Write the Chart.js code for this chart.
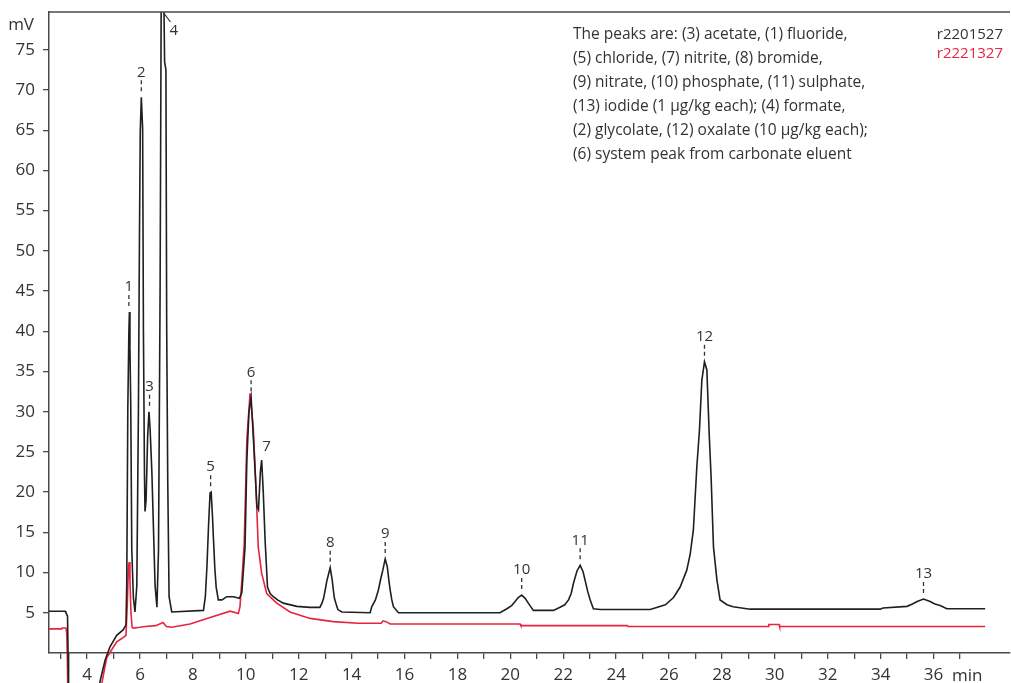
<!DOCTYPE html>
<html>
<head>
<meta charset="utf-8">
<script src="https://cdn.jsdelivr.net/npm/chart.js@4.4.1/dist/chart.umd.min.js"></script>
<style>
  html, body { margin: 0; padding: 0; background: #fff; }
  #wrap { width: 1011px; height: 683px; }
</style>
</head>
<body>
<div id="wrap"><canvas id="chromatogram" width="1011" height="683"></canvas></div>
<script>
// retention time (min), signal (mV)
const blackTrace = [
  [2.56, 5.2], [3.17, 5.2], [3.2, 5.0], [3.26, 4.6], [3.28, 0], [3.3, -4.5],
  [4.45, -4.5], [4.49, -3.5], [4.68, -0.9], [4.87, 0.8], [5.12, 2.2], [5.37, 2.9], [5.47, 3.5],
  [5.50, 8.8], [5.54, 30.6], [5.58, 40], [5.60, 42.4], [5.62, 38], [5.65, 31.0], [5.69, 12.8],
  [5.75, 6.9], [5.81, 5.1], [5.88, 8.4], [5.94, 30], [5.98, 52], [6.01, 64.8], [6.05, 69.1],
  [6.10, 65.2], [6.13, 40], [6.17, 22], [6.19, 17.6], [6.23, 19], [6.29, 27], [6.34, 30.0],
  [6.38, 28], [6.45, 22.4], [6.57, 8.4], [6.64, 5.7], [6.70, 12.8], [6.76, 45], [6.80, 80],
  [6.85, 90], [6.90, 82], [6.93, 73.5], [6.98, 72.5], [7.01, 40], [7.05, 21.1], [7.10, 7.0],
  [7.20, 5.1], [8.40, 5.3], [8.47, 7.0], [8.53, 10.7], [8.60, 16.5], [8.65, 19.9], [8.69, 20.0],
  [8.74, 17.0], [8.78, 14.0], [8.83, 10.5], [8.88, 8.2], [8.96, 6.6], [9.10, 6.6], [9.28, 7.0],
  [9.53, 7.0], [9.76, 6.8], [9.85, 7.5], [9.97, 13.1], [10.04, 24], [10.12, 30], [10.20, 31.8],
  [10.29, 26.5], [10.42, 18.2], [10.48, 17.8], [10.55, 22.5], [10.60, 24.0], [10.66, 20],
  [10.73, 14.0], [10.82, 8.2], [10.92, 7.4], [11.04, 7.0], [11.20, 6.6], [11.42, 6.2],
  [11.93, 5.8], [12.43, 5.67], [12.80, 5.67], [12.88, 6.2], [12.94, 6.8], [13.00, 7.8],
  [13.06, 8.9], [13.12, 9.7], [13.19, 10.6], [13.27, 9.0], [13.31, 7.8], [13.35, 6.8],
  [13.44, 5.8], [13.48, 5.4], [13.63, 5.1], [14.70, 5.0], [14.76, 5.75], [14.90, 6.6],
  [15.01, 7.8], [15.10, 9.2], [15.18, 10.3], [15.27, 11.7], [15.35, 10.7], [15.41, 9.0],
  [15.46, 7.8], [15.52, 6.6], [15.58, 5.75], [15.77, 5.0], [19.61, 5.0], [19.87, 5.5],
  [20.05, 5.9], [20.18, 6.4], [20.30, 6.9], [20.43, 7.2], [20.56, 6.8], [20.68, 6.2],
  [20.87, 5.3], [21.63, 5.3], [21.88, 5.7], [22.06, 6.0], [22.20, 6.6], [22.30, 7.4],
  [22.39, 8.7], [22.52, 10.2], [22.64, 10.9], [22.75, 10.1], [22.83, 9.0], [22.93, 7.6],
  [23.02, 6.6], [23.14, 5.5], [23.40, 5.4], [25.29, 5.4], [25.86, 6.0], [26.17, 6.9],
  [26.42, 8.2], [26.67, 10.3], [26.80, 12.3], [26.92, 15.3], [27.05, 23.1], [27.15, 27.7],
  [27.24, 33.9], [27.34, 36.2], [27.43, 35.2], [27.52, 27.1], [27.59, 21.9], [27.68, 13.2],
  [27.81, 9.1], [27.93, 6.6], [28.19, 6.0], [28.42, 5.75], [29.07, 5.45], [33.98, 5.45],
  [34.09, 5.6], [35.00, 5.8], [35.20, 6.1], [35.38, 6.4], [35.62, 6.7], [35.87, 6.4],
  [36.05, 6.1], [36.25, 5.9], [36.50, 5.5], [37.95, 5.5]
]

const redTrace = [
  [2.56, 3.0], [3.04, 3.0], [3.06, 3.1], [3.2, 3.1], [3.23, 2.5], [3.25, 0], [3.27, -4.5],
  [4.50, -4.5], [4.56, -3.7], [4.74, -0.6], [4.93, 0.4], [5.12, 1.4], [5.31, 1.8], [5.47, 2.2],
  [5.52, 6], [5.56, 10.5], [5.59, 11.3], [5.62, 9], [5.66, 5], [5.70, 3.2], [5.75, 3.1],
  [6.0, 3.2], [6.2, 3.3], [6.6, 3.4], [6.87, 3.8], [7.0, 3.3], [7.2, 3.2], [7.89, 3.6],
  [8.65, 4.4], [9.41, 5.2], [9.72, 4.9], [9.78, 5.75], [9.85, 9.0], [9.94, 13.6], [10.04, 26.5],
  [10.16, 32.3], [10.28, 28.1], [10.39, 20.2], [10.47, 13.2], [10.60, 9.9], [10.79, 7.4],
  [11.17, 6.2], [11.67, 5.1], [12.05, 4.7], [12.43, 4.3], [13.30, 3.9], [14.25, 3.7],
  [15.12, 3.7], [15.19, 4.0], [15.30, 3.9], [15.46, 3.6], [20.37, 3.6], [20.40, 3.4],
  [24.42, 3.4], [24.45, 3.3], [29.75, 3.3], [29.77, 3.55], [30.16, 3.55], [30.18, 3.3], [37.95, 3.3]
]

// label, peak time, peak height, leader dash?
const peakLabels = [
  ['1', 5.58, 42.4, true], ['2', 6.05, 69.1, true], ['3', 6.36, 30.0, true],
  ['5', 8.67, 20.0, true], ['6', 10.20, 31.8, true], ['7', 10.78, 22.6, false],
  ['8', 13.19, 10.6, true], ['9', 15.27, 11.7, true], ['10', 20.43, 7.2, true],
  ['11', 22.64, 10.9, true], ['12', 27.34, 36.2, true], ['13', 35.62, 6.7, true]
]

const yTicks = [5, 10, 15, 20, 25, 30, 35, 40, 45, 50, 55, 60, 65, 70, 75]
const xTicks = [3, 4, 5, 6, 7, 8, 9, 10, 11, 12, 13, 14, 15, 16, 17, 18, 19, 20,
  21, 22, 23, 24, 25, 26, 27, 28, 29, 30, 31, 32, 33, 34, 35, 36, 37]

const notes = [
  'The peaks are: (3) acetate, (1) fluoride,',
  '(5) chloride, (7) nitrite, (8) bromide,',
  '(9) nitrate, (10) phosphate, (11) sulphate,',
  '(13) iodide (1 µg/kg each); (4) formate,',
  '(2) glycolate, (12) oxalate (10 µg/kg each);',
  '(6) system peak from carbonate eluent'
]
const runNames = ['r2201527', 'r2221327']

const black = '#1f1f1f'
const red = '#e8243f'
const axisColor = '#4a4a4a'
const textColor = '#333333'
const font = "'Open Sans', 'Noto Sans', sans-serif"

const chartText = {
  id: 'chartText',
  afterDraw(chart) {
    const { ctx, chartArea: a, scales: { x, y } } = chart
    ctx.save()
    // top frame
    ctx.strokeStyle = axisColor
    ctx.lineWidth = 1.5
    ctx.beginPath()
    ctx.moveTo(a.left, a.top)
    ctx.lineTo(a.right, a.top)
    ctx.stroke()

    ctx.fillStyle = textColor
    ctx.font = '17px ' + font
    ctx.textAlign = 'right'
    ctx.textBaseline = 'middle'
    ctx.fillText('mV', a.left - 15, a.top + 13)
    ctx.textAlign = 'center'
    ctx.fillText('min', x.getPixelForValue(37.27), a.bottom + 23)

    // peak labels
    ctx.font = '15px ' + font
    peakLabels.forEach(([txt, t, v, dash]) => {
      const px = x.getPixelForValue(t)
      const py = y.getPixelForValue(v)
      ctx.fillText(txt, px, py - 25)
      if (dash) {
        ctx.strokeStyle = textColor
        ctx.lineWidth = 1.3
        ctx.setLineDash([4, 3])
        ctx.beginPath()
        ctx.moveTo(px, py - 17)
        ctx.lineTo(px, py - 5)
        ctx.stroke()
        ctx.setLineDash([])
      }
    })
    // peak 4 runs off the top
    ctx.fillText('4', x.getPixelForValue(7.28), a.top + 19)
    ctx.strokeStyle = textColor
    ctx.lineWidth = 1.2
    ctx.beginPath()
    ctx.moveTo(x.getPixelForValue(6.9), a.top + 1)
    ctx.lineTo(x.getPixelForValue(7.15), a.top + 10)
    ctx.stroke()

    // notes
    ctx.font = '15.5px ' + font
    ctx.textAlign = 'left'
    notes.forEach((line, i) => ctx.fillText(line, 573, 35 + i * 24))
    ctx.font = '15px ' + font
    ctx.textAlign = 'right'
    ctx.fillStyle = textColor
    ctx.fillText(runNames[0], 1003, 35)
    ctx.fillStyle = red
    ctx.fillText(runNames[1], 1003, 54)
    ctx.restore()
  }
}

const toXY = arr => arr.map(p => ({ x: p[0], y: p[1] }))

new Chart(document.getElementById('chromatogram'), {
  type: 'line',
  data: {
    datasets: [{
      label: runNames[0],
      data: toXY(blackTrace),
      borderColor: black,
      borderWidth: 1.6,
      pointRadius: 0,
      tension: 0,
      clip: { left: 0, top: 0, right: 0, bottom: false }
    }, {
      label: runNames[1],
      data: toXY(redTrace),
      borderColor: red,
      borderWidth: 1.6,
      pointRadius: 0,
      tension: 0,
      clip: { left: 0, top: 0, right: 0, bottom: false }
    }]
  },
  options: {
    responsive: false,
    animation: false,
    layout: { padding: { top: 12, right: 1, left: 0, bottom: 0 } },
    plugins: { legend: { display: false }, tooltip: { enabled: false } },
    scales: {
      x: {
        type: 'linear',
        min: 2.56,
        max: 38.89,
        afterBuildTicks: axis => { axis.ticks = xTicks.map(v => ({ value: v })) },
        afterFit: axis => { axis.height = 30; axis.paddingLeft = 0; axis.paddingRight = 0 },
        border: { display: true, color: axisColor, width: 1.5 },
        grid: { drawOnChartArea: false, drawTicks: true, tickLength: 6, color: axisColor, lineWidth: 1.3 },
        ticks: {
          autoSkip: false,
          maxRotation: 0,
          padding: 6,
          color: textColor,
          font: { family: font, size: 17 },
          callback: v => (v % 2 === 0 ? String(v) : '')
        }
      },
      y: {
        min: 0,
        max: 79.7,
        afterBuildTicks: axis => { axis.ticks = yTicks.map(v => ({ value: v })) },
        afterFit: axis => { axis.width = 49; axis.paddingTop = 0; axis.paddingBottom = 0 },
        border: { display: true, color: axisColor, width: 1.5 },
        grid: { drawOnChartArea: false, drawTicks: true, tickLength: 6, color: axisColor, lineWidth: 1.3 },
        ticks: {
          padding: 8,
          color: textColor,
          font: { family: font, size: 17 }
        }
      }
    }
  },
  plugins: [chartText]
})
</script>
</body>
</html>
